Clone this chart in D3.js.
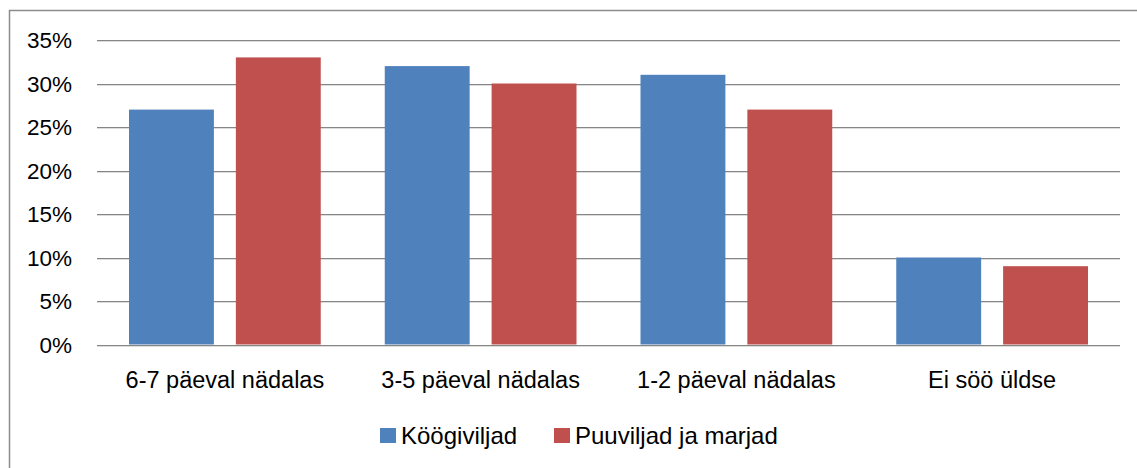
<!DOCTYPE html>
<html><head><meta charset="utf-8">
<script src="https://cdn.jsdelivr.net/npm/d3@7"></script>
<style>body{margin:0;background:#fff}svg{display:block}text{font-family:"Liberation Sans",Arial,sans-serif;fill:#000}</style>
</head><body>
<script>
const categories = ["6-7 päeval nädalas", "3-5 päeval nädalas", "1-2 päeval nädalas", "Ei söö üldse"];
const seriesNames = ["Köögiviljad", "Puuviljad ja marjad"];
const koogiviljad = [27, 32, 31, 10];
const puuviljad = [33, 30, 27, 9];
const yTicks = [0, 5, 10, 15, 20, 25, 30, 35];
const colors = ["#4F81BD", "#C0504D"];

(function () {
const W = 1137, H = 468;
const svg = d3.select("body").append("svg").attr("width", W).attr("height", H);
svg.append("rect").attr("x", 9.5).attr("y", 10.5).attr("width", W + 10).attr("height", H + 10)
  .attr("fill", "none").attr("stroke", "#8c8c8c").attr("stroke-width", 1.5);

const pLeft = 97, pRight = 1120, pTop = 40, pBottom = 344.5;
const x = d3.scaleBand().domain(categories).range([pLeft, pRight]).paddingInner(0).paddingOuter(0);
const y = d3.scaleLinear().domain([0, 35]).range([pBottom, pTop]);

const bw = x.bandwidth();
const sub = d3.scaleBand().domain(seriesNames).range([32, bw - 32]).paddingInner(22 / 107);

const grid = svg.append("g");
yTicks.forEach(t => {
  const yy = Math.round(y(t));
  grid.append("line").attr("x1", pLeft).attr("x2", pRight).attr("y1", yy + 1.5).attr("y2", yy + 1.5)
    .attr("stroke", "#dcdcdc").attr("stroke-width", 1);
  grid.append("line").attr("x1", pLeft).attr("x2", pRight).attr("y1", yy + 0.5).attr("y2", yy + 0.5)
    .attr("stroke", "#868686").attr("stroke-width", 1.2);
});

const yAxis = d3.axisLeft(y).tickValues(yTicks).tickFormat(d => d + "%").tickSize(0).tickPadding(0);
const ya = svg.append("g").attr("transform", "translate(72,0)").call(yAxis);
ya.select(".domain").remove();
ya.selectAll("text").attr("font-size", 22.5).attr("font-family", "'Liberation Sans',Arial,sans-serif").attr("fill", "#000").attr("dy", "0.35em");

const series = [koogiviljad, puuviljad];
series.forEach((vals, si) => {
  svg.append("g").selectAll("rect").data(vals).join("rect")
    .attr("x", (d, i) => x(categories[i]) + sub(seriesNames[si]))
    .attr("width", sub.bandwidth())
    .attr("y", d => y(d))
    .attr("height", d => y(0) - y(d))
    .attr("fill", colors[si]);
});

const xAxis = d3.axisBottom(x).tickSize(0).tickPadding(0);
const xa = svg.append("g").attr("transform", "translate(0,380)").call(xAxis);
xa.select(".domain").remove();
xa.selectAll("text").attr("font-size", 23.5).attr("font-family", "'Liberation Sans',Arial,sans-serif").attr("fill", "#000").attr("dy", "0.35em");

const leg = svg.append("g");
const legX = [380, 554];
seriesNames.forEach((n, i) => {
  leg.append("rect").attr("x", legX[i]).attr("y", 428).attr("width", 16).attr("height", 15).attr("fill", colors[i]);
  leg.append("text").attr("x", legX[i] + 21).attr("y", 436).attr("dy", "0.35em").attr("font-size", 24).text(n);
});
})();
</script>
</body></html>
